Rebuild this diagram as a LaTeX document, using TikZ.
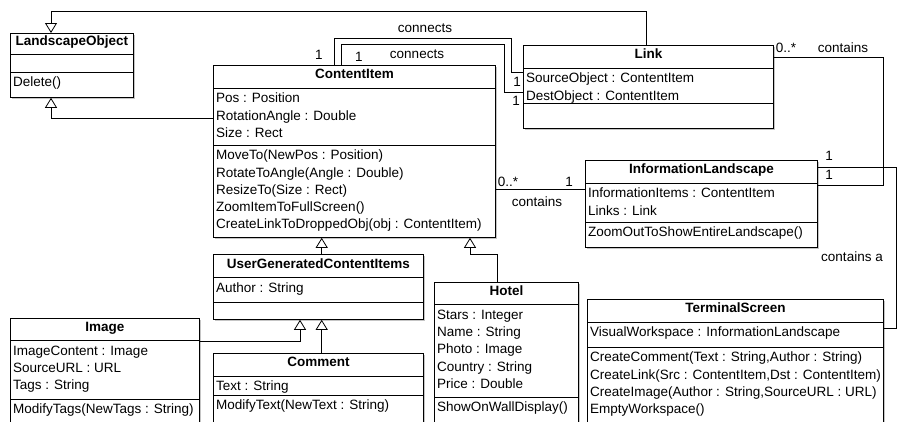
\documentclass[tikz,border=0pt]{standalone}
\usepackage{fontspec}
\setmainfont{Liberation Sans}
\usetikzlibrary{arrows.meta,shadows}
\tikzset{
  umlbox/.style={draw, line width=0.8pt, fill=white, anchor=north west, inner sep=0pt,
    drop shadow={shadow xshift=1.3pt, shadow yshift=-1.3pt, fill=black!45}},
  umlsep/.style={line width=0.8pt},
  umltitle/.style={anchor=base, inner sep=0pt, font=\fontsize{13.5}{17.3}\selectfont\bfseries},
  umltext/.style={anchor=north west, align=left, inner xsep=3pt, inner ysep=2.4pt},
  lbl/.style={inner sep=0pt, text height=9.7pt, text depth=0pt},
  inherit/.style={line width=0.8pt, -{Triangle[open, length=10pt, width=12pt]}},
  assoc/.style={line width=0.8pt}
}
\newcommand{\umlclass}[9]{%
  \node[umlbox, minimum width=#3, minimum height=#4+#5+#6] (#1) at #2 {};
  \draw[umlsep] ([yshift=-#4]#1.north west) -- ([yshift=-#4]#1.north east);
  \draw[umlsep] ([yshift=-#4-#5]#1.north west) -- ([yshift=-#4-#5]#1.north east);
  \node[umltitle] (#1-t) at ([yshift=-#4/2-2.3]#1.north) {#7};
  \node[umltext] (#1-a) at ([yshift=-#4]#1.north west) {\strut #8};
  \node[umltext] (#1-m) at ([yshift=-#4-#5]#1.north west) {\strut #9};
}
\begin{document}
\begin{tikzpicture}[x=1pt, y=-1pt, font=\fontsize{13.5}{17.3}\selectfont]
\useasboundingbox (0,0) rectangle (903,421);
\clip (0,0) rectangle (903,421);
\umlclass{lo}{(10,33)}{123}{21}{18}{25}{LandscapeObject}{}{Delete()}
\umlclass{ci}{(213,65)}{282}{23}{57}{92}{ContentItem}{Pos : Position\\RotationAngle : Double\\Size : Rect}{MoveTo(NewPos : Position)\\RotateToAngle(Angle : Double)\\ResizeTo(Size : Rect)\\ZoomItemToFullScreen()\\CreateLinkToDroppedObj(obj : ContentItem)}
\umlclass{link}{(523,45)}{250}{23}{35}{25}{Link}{SourceObject : ContentItem\\DestObject : ContentItem}{}
\umlclass{il}{(585,160)}{232}{23}{39}{25}{InformationLandscape}{InformationItems : ContentItem\\Links : Link}{ZoomOutToShowEntireLandscape()}
\umlclass{ugc}{(213,254)}{210}{23.5}{24.5}{17}{UserGeneratedContentItems}{Author : String}{}
\umlclass{hotel}{(434,282)}{144}{22.5}{92.5}{40}{Hotel}{Stars : Integer\\Name : String\\Photo : Image\\Country : String\\Price : Double}{ShowOnWallDisplay()}
\umlclass{img}{(10,318)}{189}{22.5}{58.5}{40}{Image}{ImageContent : Image\\SourceURL : URL\\Tags : String}{ModifyTags(NewTags : String)}
\umlclass{com}{(213,353)}{210}{23}{19}{40}{Comment}{Text : String}{ModifyText(NewText : String)}
\umlclass{ts}{(587,299)}{296}{23}{25}{80}{TerminalScreen}{VisualWorkspace : InformationLandscape}{CreateComment(Text : String,Author : String)\\CreateLink(Src : ContentItem,Dst : ContentItem)\\CreateImage(Author : String,SourceURL : URL)\\EmptyWorkspace()}
\draw[inherit] ([yshift=-53]ci.north west) -| ([xshift=41]lo.south west);
\draw[inherit] ([xshift=123]link.north west) -- ++(0,-34) -| ([xshift=41]lo.north west);
\draw[assoc] ([xshift=121]ci.north west) -- ++(0,-27) -- ++(177,0) |- ([yshift=-27]link.north west);
\draw[assoc] ([xshift=128]ci.north west) -- ++(0,-21) -- ++(163,0) |- ([yshift=-47]link.north west);
\draw[assoc] ([yshift=-12]link.north east) -- ++(110,0) |- ([yshift=-25]il.north east);
\draw[assoc] ([yshift=-29]il.north west) -- ([yshift=-29]il.north west -| ci.east);
\draw[assoc] ([yshift=-7]il.north east) -- ++(79,0) |- ([yshift=-29]ts.north east);
\draw[inherit] ([xshift=108.7]ugc.north west) -- ([xshift=108.7]ugc.north west |- ci.south);
\draw[inherit] ([xshift=63.3]hotel.north west) -- ++(0,-27.7) -| ([xshift=257]ci.south west);
\draw[inherit] ([yshift=-23.5]img.north east) -| ([xshift=87]ugc.south west);
\draw[inherit] ([xshift=108.7]com.north west) -- ([xshift=108.7]com.north west |- ugc.south);
\node[lbl] (l1) at (425,28) {connects};
\node[lbl] (l2) at (417,54) {connects};
\node[lbl] (l3) at (319,55) {1};
\node[lbl] (l4) at (359,57) {1};
\node[lbl] (l5) at (517,82) {1};
\node[lbl] (l6) at (516,101) {1};
\node[lbl] (l7) at (786,48) {0..*};
\node[lbl] (l8) at (843,48) {contains};
\node[lbl] (l9) at (829,156) {1};
\node[lbl] (l10) at (829,175) {1};
\node[lbl] (l11) at (508,182) {0..*};
\node[lbl] (l12) at (569,182) {1};
\node[lbl] (l13) at (537,202) {contains};
\node[lbl] (l14) at (852,257) {contains a};
\end{tikzpicture}
\end{document}
